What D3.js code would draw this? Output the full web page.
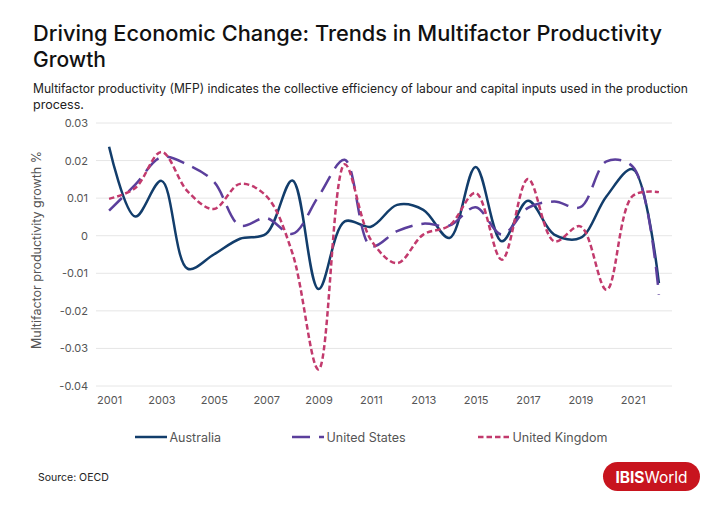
<!DOCTYPE html>
<html><head><meta charset="utf-8">
<script src="https://cdn.jsdelivr.net/npm/d3@7/dist/d3.min.js"></script>
<style>body{margin:0;background:#fff}svg{display:block}</style>
</head><body>
<script>
const years = d3.range(2001, 2023);
const tickYears = [2001,2003,2005,2007,2009,2011,2013,2015,2017,2019,2021];
const yTicks = [0.03,0.02,0.01,0,-0.01,-0.02,-0.03,-0.04];
const australia = [0.0237,0.0051,0.0146,-0.0088,-0.0050,-0.0008,0.0005,0.0147,-0.0142,0.0038,0.0024,0.0082,0.0069,-0.0006,0.0183,-0.0015,0.0093,0.0003,-0.0006,0.0105,0.0177,-0.0126];
const unitedStates = [0.0067,0.0136,0.0209,0.0189,0.0144,0.0027,0.0047,0.0005,0.0105,0.0202,-0.0028,0.0012,0.0032,0.0027,0.0076,0.0003,0.0074,0.0091,0.0076,0.0198,0.0184,-0.0157];
const unitedKingdom = [0.0098,0.0127,0.0223,0.0118,0.0071,0.0138,0.0106,-0.0046,-0.0356,0.0190,-0.0011,-0.0073,0.0003,0.0027,0.0114,-0.0064,0.0151,-0.0015,0.0025,-0.0144,0.0106,0.0116];
const seriesNames = ["Australia","United States","United Kingdom"];
const titleLines = ["Driving Economic Change: Trends in Multifactor Productivity","Growth"];
const subtitleLines = ["Multifactor productivity (MFP) indicates the collective efficiency of labour and capital inputs used in the production","process."];

const W=720,H=510;
const svg=d3.select("body").append("svg").attr("width",W).attr("height",H);
const font="Inter, 'Noto Sans', sans-serif";

const x=d3.scalePoint().domain(years).range([96,672]).padding(0.5);
const y=d3.scaleLinear().domain([-0.04,0.03]).range([386,123]);

// title
const tt=svg.append("text").attr("font-family",font).attr("font-size",21).attr("font-weight",500).attr("fill","#111");
titleLines.forEach((l,i)=>tt.append("tspan").attr("x",33).attr("y",41+i*26).text(l));
const st=svg.append("text").attr("font-family",font).attr("font-size",12.5).attr("fill","#222");
subtitleLines.forEach((l,i)=>st.append("tspan").attr("x",33).attr("y",93+i*16).text(l));
function fit(sel,target){sel.attr("textLength",target).attr("lengthAdjust","spacingAndGlyphs");}
fit(tt.select("tspan"),629);
fit(st.select("tspan"),655);

// grid
svg.append("g").selectAll("line").data(yTicks).join("line")
 .attr("x1",96).attr("x2",672).attr("y1",d=>y(d)).attr("y2",d=>y(d))
 .attr("stroke","#e6e6e6").attr("stroke-width",1);

// y axis
const ya=svg.append("g").attr("transform","translate(96,0)").call(d3.axisLeft(y).tickValues(yTicks).tickSize(0).tickPadding(8).tickFormat(d=>d===0?"0":String(+d.toFixed(2))));
ya.select(".domain").remove();
ya.selectAll("text").attr("font-family",font).attr("font-size",11).attr("fill","#555");

// x axis
const xa=svg.append("g").attr("transform","translate(0,394)").call(d3.axisBottom(x).tickValues(tickYears).tickSize(0).tickPadding(2));
xa.select(".domain").remove();
xa.selectAll("text").attr("font-family",font).attr("font-size",11).attr("fill","#555");

svg.append("text").attr("transform","translate(41,250) rotate(-90)").attr("text-anchor","middle")
 .attr("font-family",font).attr("font-size",12.5).attr("fill","#555").text("Multifactor productivity growth %");

const series=[
 {name:seriesNames[0],vals:australia,color:"#123d6b",dash:null},
 {name:seriesNames[1],vals:unitedStates,color:"#5b3f9c",dash:"18,9"},
 {name:seriesNames[2],vals:unitedKingdom,color:"#c23a6d",dash:"5.5,3"}
];
const line=d3.line().x((d,i)=>x(years[i])).y(d=>y(d)).curve(d3.curveCatmullRom.alpha(0.5));
series.forEach(s=>{
 svg.append("path").datum(s.vals).attr("d",line).attr("fill","none")
  .attr("stroke",s.color).attr("stroke-width",2.5).attr("stroke-dasharray",s.dash);
});

// legend
const legX=[135,292,478];
series.forEach((s,i)=>{
 const lg=svg.append("g").attr("transform",`translate(${legX[i]},437)`);
 lg.append("line").attr("x1",0).attr("x2",32).attr("y1",0).attr("y2",0)
  .attr("stroke",s.color).attr("stroke-width",2.5).attr("stroke-dasharray",s.dash);
 lg.append("text").attr("x",34.5).attr("y",4.5).attr("font-family",font).attr("font-size",12.5).attr("fill","#555").text(s.name);
});

// source
svg.append("text").attr("x",38).attr("y",481).attr("font-family",font).attr("font-size",10.5).attr("fill","#222").text("Source: OECD");

// logo
const logo=svg.append("g");
logo.append("rect").attr("x",603).attr("y",462).attr("width",97).attr("height",29).attr("rx",14.5).attr("fill","#c8141e");
const lt=logo.append("text").attr("x",651.5).attr("y",482.5).attr("text-anchor","middle").attr("font-family",font).attr("font-size",15.5).attr("fill","#fff");
lt.append("tspan").attr("font-weight",700).text("IBIS");
lt.append("tspan").attr("font-weight",400).text("World");
</script>
</body></html>
